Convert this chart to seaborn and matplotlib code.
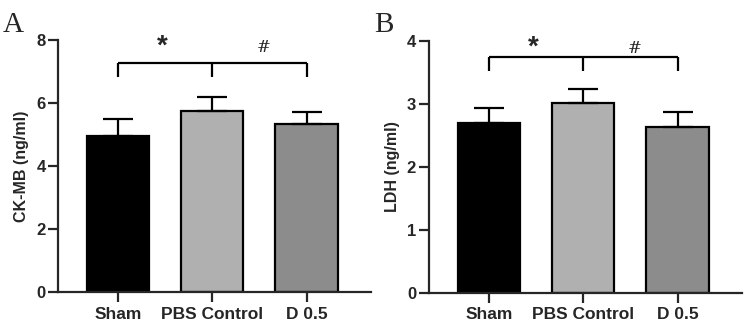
import numpy as np
import pandas as pd
import matplotlib
matplotlib.use('Agg')
import matplotlib.pyplot as plt
import seaborn as sns

groups = ['Sham', 'PBS Control', 'D 0.5']
colors = ['#000000', '#b0b0b0', '#8c8c8c']

ckmb_mean = [4.95, 5.75, 5.33]
ckmb_sd = [0.53, 0.43, 0.37]
ldh_mean = [2.70, 3.02, 2.64]
ldh_sd = [0.24, 0.22, 0.24]

sns.set_theme(style='ticks')
plt.rcParams['font.family'] = ['Liberation Sans', 'DejaVu Sans']

fig = plt.figure(figsize=(7.44, 3.32), dpi=100)
ax_a = fig.add_axes([0.078, 0.12, 0.42, 0.76])
ax_b = fig.add_axes([0.576, 0.118, 0.421, 0.758])


def panel(ax, means, sds, ylabel, ymax, step, bracket_y, drop, letter, letter_x):
    df = pd.DataFrame({'group': groups, 'value': means})
    sns.barplot(data=df, x='group', y='value', hue='group', order=groups,
                palette=colors, width=0.66, edgecolor='black', linewidth=1.6,
                errorbar=None, legend=False, ax=ax)
    x = np.arange(len(groups))
    ax.errorbar(x, means, yerr=[np.zeros(len(sds)), sds], fmt='none',
                ecolor='black', elinewidth=1.6, capsize=11, capthick=1.6, zorder=3)
    ax.set_ylim(0, ymax)
    ax.set_xlim(-0.64, 2.68)
    ticks = np.arange(0, ymax + step / 2, step)
    ax.set_yticks(ticks)
    ax.set_yticklabels([f'{int(v)}' for v in ticks])
    sns.despine(ax=ax)
    for s in ['left', 'bottom']:
        ax.spines[s].set_linewidth(1.6)
    ax.tick_params(axis='both', length=7.5, width=1.6)
    ax.tick_params(axis='y', labelsize=12, pad=1.5)
    ax.tick_params(axis='x', labelsize=12.5, pad=3)
    for lab in ax.get_xticklabels() + ax.get_yticklabels():
        lab.set_fontweight('bold')
    ax.set_xlabel('')
    ax.set_ylabel(ylabel, fontsize=11.5, fontweight='bold', labelpad=5)

    # significance bracket
    kw = dict(color='black', lw=1.6, clip_on=False, solid_capstyle='butt')
    ax.plot([0, 2], [bracket_y, bracket_y], **kw)
    for xi in x:
        ax.plot([xi, xi], [bracket_y, bracket_y - drop], **kw)
    ax.text(0.47, ymax * 0.975, '*', ha='center', va='center', fontsize=20,
            fontweight='bold', clip_on=False)
    ax.text(1.55, ymax * 0.97, '#', ha='center', va='center', fontsize=12,
            family='DejaVu Serif', clip_on=False)
    fig.text(letter_x, 0.965, letter, ha='left', va='top', fontsize=21,
             family='Liberation Serif')


panel(ax_a, ckmb_mean, ckmb_sd, 'CK-MB (ng/ml)', 8, 2, 7.28, 0.46, 'A', 0.003)
panel(ax_b, ldh_mean, ldh_sd, 'LDH (ng/ml)', 4, 1, 3.75, 0.22, 'B', 0.503)

fig.savefig('out.png', dpi=100)
